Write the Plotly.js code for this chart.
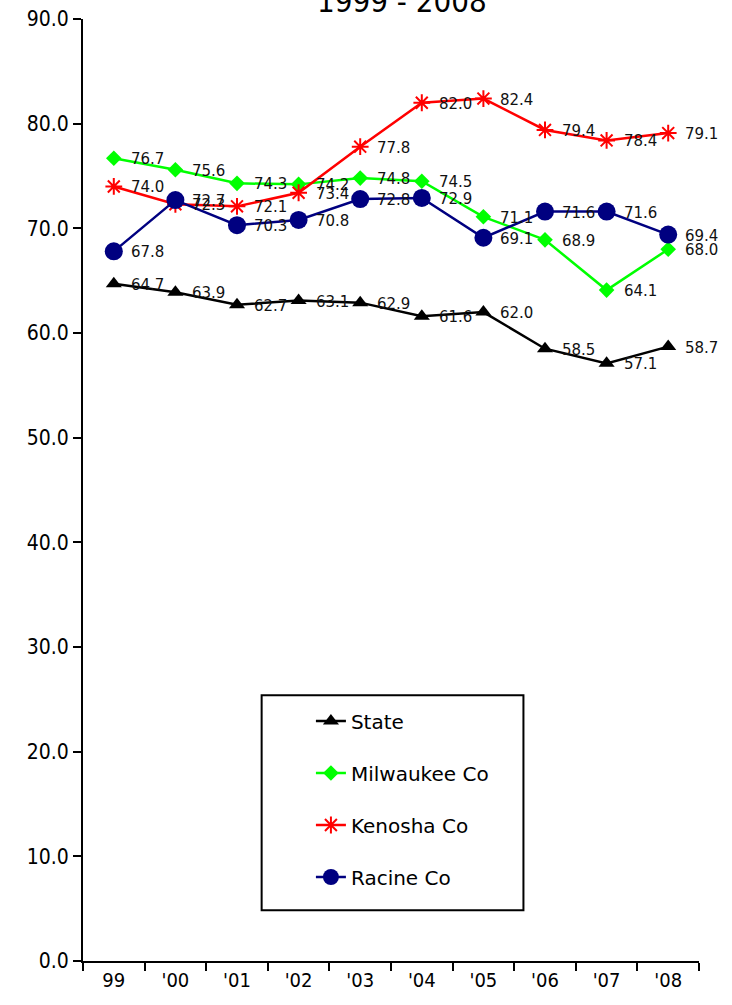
<!DOCTYPE html>
<html>
<head>
<meta charset="utf-8">
<script src="https://cdn.plot.ly/plotly-3.0.1.min.js"></script>
<style>html,body{margin:0;padding:0;background:#fff;}#chart{width:732px;height:1005px;}</style>
</head>
<body>
<div id="chart"></div>
<script>
const categories = ["99", "'00", "'01", "'02", "'03", "'04", "'05", "'06", "'07", "'08"];
const stateVals = [64.7, 63.9, 62.7, 63.1, 62.9, 61.6, 62.0, 58.5, 57.1, 58.7];
const milwaukeeVals = [76.7, 75.6, 74.3, 74.2, 74.8, 74.5, 71.1, 68.9, 64.1, 68.0];
const kenoshaVals = [74.0, 72.3, 72.1, 73.4, 77.8, 82.0, 82.4, 79.4, 78.4, 79.1];
const racineVals = [67.8, 72.7, 70.3, 70.8, 72.8, 72.9, 69.1, 71.6, 71.6, 69.4];
const yTicks = [0, 10, 20, 30, 40, 50, 60, 70, 80, 90];

const series = [
  {name: 'State', y: stateVals, color: '#000000', symbol: 'triangle-up', size: 14, mline: 0},
  {name: 'Milwaukee Co', y: milwaukeeVals, color: '#00FF00', symbol: 'diamond', size: 12, mline: 0},
  {name: 'Kenosha Co', y: kenoshaVals, color: '#FF0000', symbol: 'asterisk-open', size: 14, mline: 2},
  {name: 'Racine Co', y: racineVals, color: '#000080', symbol: 'circle', size: 18, mline: 0}
];

const traces = series.map((s, i) => ({
  type: 'scatter', mode: 'lines+markers', name: s.name, x: categories, y: s.y,
  legendgroup: 'g' + i,
  line: {color: s.color, width: 2.5},
  marker: {color: s.color, symbol: s.symbol, size: s.size, line: {color: s.color, width: s.mline}},
  cliponaxis: false
}));

const annotations = [];
series.forEach(s => {
  s.y.forEach((v, j) => {
    annotations.push({
      x: j, y: v, xref: 'x', yref: 'y', text: v.toFixed(1), showarrow: false,
      xanchor: 'left', yanchor: 'middle', xshift: 15, yshift: -1,
      font: {family: 'DejaVu Sans, Verdana, sans-serif', size: 15, color: '#111'}
    });
  });
});

const layout = {
  width: 732, height: 1005,
  margin: {l: 83, r: 33, t: 19, b: 44},
  paper_bgcolor: '#fff', plot_bgcolor: '#fff',
  showlegend: true,
  title: {text: '1999 - 2008', x: 0.549, xref: 'container', xanchor: 'center', y: 0.999, yref: 'container', yanchor: 'middle',
    font: {family: 'DejaVu Sans Condensed, DejaVu Sans, sans-serif', size: 31, color: '#000'}},
  xaxis: {type: 'category', range: [-0.5, 9.5], showline: true, linecolor: '#000', linewidth: 2,
    ticks: 'outside', tickson: 'boundaries', ticklen: 8, tickwidth: 2, tickcolor: '#000',
    showgrid: false, zeroline: false, fixedrange: true,
    tickfont: {family: 'DejaVu Sans Condensed, DejaVu Sans, sans-serif', size: 20, color: '#000'}},
  yaxis: {range: [0, 90], tickvals: yTicks, ticktext: yTicks.map(v => v.toFixed(1)),
    showline: true, linecolor: '#000', linewidth: 2, ticks: 'outside', ticklen: 8, tickwidth: 2, tickcolor: '#000',
    showgrid: false, zeroline: false, fixedrange: true,
    tickfont: {family: 'DejaVu Sans Condensed, DejaVu Sans, sans-serif', size: 21, color: '#000'}},
  legend: {x: 0.370, y: 0.2755, xanchor: 'left', yanchor: 'top', bgcolor: 'rgba(0,0,0,0)', borderwidth: 0,
    traceorder: 'grouped', tracegroupgap: 23,
    font: {family: 'DejaVu Sans, Verdana, sans-serif', size: 20, color: '#000'}},
  shapes: [{type: 'rect', xref: 'paper', yref: 'paper', x0: 0.29, x1: 0.715, y0: 0.054, y1: 0.282,
    line: {color: '#000', width: 2}, fillcolor: 'rgba(0,0,0,0)', layer: 'below'}],
  annotations: annotations
};

Plotly.newPlot('chart', traces, layout, {staticPlot: true, displayModeBar: false});
</script>
</body>
</html>
